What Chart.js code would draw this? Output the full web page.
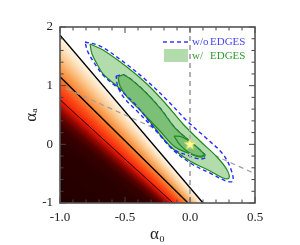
<!DOCTYPE html>
<html>
<head>
<meta charset="utf-8">
<script src="https://cdn.jsdelivr.net/npm/chart.js@4.4.1/dist/chart.umd.min.js"></script>
<style>
  html, body { margin: 0; padding: 0; background: #fff; }
  #chart { display: block; }
</style>
</head>
<body>
<canvas id="chart" width="300" height="245"></canvas>
<script>
// axis ticks
const xMajorTicks = [-1.0, -0.5, 0.0, 0.5];
const xMinorTicks = [-0.9, -0.8, -0.7, -0.6, -0.4, -0.3, -0.2, -0.1, 0.1, 0.2, 0.3, 0.4];
const yMajorTicks = [-1, 0, 1, 2];
const yMinorTicks = [-0.8, -0.6, -0.4, -0.2, 0.2, 0.4, 0.6, 0.8, 1.2, 1.4, 1.6, 1.8];

// black contour lines of the background map: from (-1, leftY) down to (bottomX, -1)
const contourLeftY = [1.86, 1.15, 0.76];
const contourBottomX = [0.10, -0.015, -0.13];
const contourWidths = [1.4, 1.4, 0.9];

// background map colour levels, read along the left edge (x = -1)
const heatLevelY = [1.864, 1.693, 1.523, 1.335, 1.148, 0.960, 0.807, 0.705, 0.585, 0.449, 0.279, -0.011, -1.0];
const heatColors = ['#fef5e8', '#fde4c2', '#fbca92', '#f9a458', '#f87c30', '#fa4c18', '#f82a0a',
  '#d61404', '#950702', '#5a0200', '#380000', '#2a0000', '#220000'];

// gray dashed guide lines
const diagX = [-0.95, 0.5];
const diagY = [0.95, -0.5];
const vertX = [0, 0];
const vertY = [-1, 2];

// w/ EDGES contours (green)
const greenOuterX = [-0.769, -0.669, -0.485, -0.331, -0.192, -0.054, 0.077, 0.208, 0.285, 0.300, 0.254, 0.154, 0.0, -0.154, -0.308, -0.438, -0.562, -0.669, -0.715, -0.754, -0.769];
const greenOuterY = [1.710, 1.608, 1.318, 1.028, 0.705, 0.347, 0.057, -0.216, -0.437, -0.574, -0.574, -0.454, -0.284, -0.028, 0.381, 0.739, 0.994, 1.199, 1.369, 1.540, 1.710];
const greenInnerX = [-0.554, -0.508, -0.385, -0.231, -0.115, 0.015, 0.092, 0.115, 0.069, -0.015, -0.115, -0.231, -0.385, -0.485, -0.538, -0.554];
const greenInnerY = [1.148, 1.182, 0.977, 0.619, 0.278, 0.023, -0.131, -0.199, -0.216, -0.148, -0.045, 0.227, 0.585, 0.807, 0.994, 1.148];
const greenCoreX = [-0.123, -0.062, 0.015, 0.077, 0.108, 0.062, -0.015, -0.077, -0.123];
const greenCoreY = [0.142, 0.125, 0.023, -0.096, -0.182, -0.199, -0.131, -0.011, 0.142];

// w/o EDGES contours (blue dashed)
const blueOuterX = [-0.808, -0.692, -0.500, -0.331, -0.177, -0.015, 0.115, 0.246, 0.308, 0.331, 0.277, 0.169, 0.015, -0.138, -0.292, -0.423, -0.546, -0.662, -0.731, -0.785, -0.808];
const blueOuterY = [1.744, 1.676, 1.386, 1.080, 0.756, 0.381, 0.125, -0.148, -0.386, -0.625, -0.625, -0.506, -0.335, -0.079, 0.330, 0.688, 0.943, 1.165, 1.369, 1.574, 1.744];
const blueInnerX = [-0.569, -0.508, -0.385, -0.231, -0.115, 0.015, 0.092, 0.123, 0.077, -0.023, -0.131, -0.246, -0.400, -0.500, -0.554, -0.569];
const blueInnerY = [1.165, 1.182, 0.977, 0.619, 0.278, 0.023, -0.131, -0.216, -0.250, -0.182, -0.079, 0.193, 0.551, 0.773, 0.977, 1.165];

// best fit point
const starX = [0.0];
const starY = [0.0];

const pts = (xs, ys) => xs.map((x, i) => ({ x: x, y: ys[i] }));
const serif = "'Liberation Serif', 'DejaVu Serif', serif";

// filled 5-point star used as point style
const starImg = document.createElement('canvas');
starImg.width = 13;
starImg.height = 13;
(function () {
  const c = starImg.getContext('2d');
  c.beginPath();
  for (let i = 0; i < 10; i++) {
    const r = i % 2 === 0 ? 6 : 2.6;
    const a = -Math.PI / 2 + i * Math.PI / 5;
    c.lineTo(6.5 + r * Math.cos(a), 6.5 + r * Math.sin(a));
  }
  c.closePath();
  c.fillStyle = '#ffff90';
  c.fill();
  c.strokeStyle = '#e0d870';
  c.lineWidth = 0.8;
  c.stroke();
})();

// the map's contour lines fan out from one point, so colour it with a conic gradient around it
function heatFill(context) {
  const chart = context.chart;
  const xs = chart.scales.x, ys = chart.scales.y;
  if (!chart.chartArea || !xs || !ys) return heatColors[0];
  const seg = (i) => ({
    x0: xs.getPixelForValue(-1), y0: ys.getPixelForValue(contourLeftY[i]),
    x1: xs.getPixelForValue(contourBottomX[i]), y1: ys.getPixelForValue(-1)
  });
  const a = seg(0), b = seg(contourLeftY.length - 1);
  const d1x = a.x1 - a.x0, d1y = a.y1 - a.y0, d2x = b.x1 - b.x0, d2y = b.y1 - b.y0;
  const t = ((b.x0 - a.x0) * d2y - (b.y0 - a.y0) * d2x) / (d1x * d2y - d1y * d2x);
  const fx = a.x0 + t * d1x, fy = a.y0 + t * d1y;
  const g = chart.ctx.createConicGradient(-Math.PI, fx, fy);
  const px = xs.getPixelForValue(-1);
  heatLevelY.forEach((v, i) => {
    const ang = Math.atan2(ys.getPixelForValue(v) - fy, px - fx) + Math.PI;
    g.addColorStop(Math.min(1, Math.max(0, ang / (2 * Math.PI))), heatColors[i]);
  });
  return g;
}

const datasets = [];

datasets.push({
  data: pts(starX, starY), showLine: false,
  pointStyle: starImg, pointRadius: 6, order: 0
});
datasets.push({
  data: pts(blueOuterX, blueOuterY), showLine: true, tension: 0.35, pointRadius: 0,
  borderColor: '#2a2aff', borderWidth: 1.4, borderDash: [4, 3], fill: false, order: 1
});
datasets.push({
  data: pts(vertX, vertY), showLine: true, pointRadius: 0,
  borderColor: '#b0b0b0', borderWidth: 2, borderDash: [5, 4], fill: false, order: 3
});
datasets.push({
  data: pts(greenCoreX, greenCoreY), showLine: true, tension: 0.35, pointRadius: 0,
  borderColor: '#1f8a1f', borderWidth: 1.2, backgroundColor: '#7cbf76', fill: 'shape', order: 4
});
datasets.push({
  data: pts(greenInnerX, greenInnerY), showLine: true, tension: 0.35, pointRadius: 0,
  borderColor: '#1f8a1f', borderWidth: 1.2, backgroundColor: '#7cbf76', fill: 'shape', order: 5
});
datasets.push({
  data: pts(blueInnerX, blueInnerY), showLine: true, tension: 0.35, pointRadius: 0,
  borderColor: '#2a2aff', borderWidth: 1.4, borderDash: [4, 3], fill: false, order: 6
});
datasets.push({
  data: pts(greenOuterX, greenOuterY), showLine: true, tension: 0.35, pointRadius: 0,
  borderColor: '#1f8a1f', borderWidth: 1.2, backgroundColor: '#b2dcab', fill: 'shape', order: 7
});
datasets.push({
  data: pts(diagX, diagY), showLine: true, pointRadius: 0,
  borderColor: '#a0a0a0', borderWidth: 1.2, borderDash: [5, 4], fill: false, order: 8
});
contourLeftY.forEach((yl, i) => {
  datasets.push({
    data: [{ x: -1, y: yl }, { x: contourBottomX[i], y: -1 }], showLine: true, pointRadius: 0,
    borderColor: '#000', borderWidth: contourWidths[i],
    backgroundColor: i === 0 ? heatFill : 'rgba(0,0,0,0)',
    fill: i === 0 ? 'start' : false, order: i === 0 ? 12 : 9
  });
});

// inward ticks, frame and legend
const framePlugin = {
  id: 'frame',
  afterDatasetsDraw(chart) {
    const { ctx, chartArea: a, scales: { x, y } } = chart;
    ctx.save();
    ctx.strokeStyle = '#444';
    ctx.lineWidth = 1;
    const tick = (v, len, horiz) => {
      ctx.beginPath();
      if (horiz) {
        const px = x.getPixelForValue(v);
        ctx.moveTo(px, a.bottom); ctx.lineTo(px, a.bottom - len);
        ctx.moveTo(px, a.top); ctx.lineTo(px, a.top + len);
      } else {
        const py = y.getPixelForValue(v);
        ctx.moveTo(a.left, py); ctx.lineTo(a.left + len, py);
        ctx.moveTo(a.right, py); ctx.lineTo(a.right - len, py);
      }
      ctx.stroke();
    };
    xMajorTicks.forEach(v => tick(v, 6, true));
    xMinorTicks.forEach(v => tick(v, 3.5, true));
    yMajorTicks.forEach(v => tick(v, 6, false));
    yMinorTicks.forEach(v => tick(v, 3.5, false));

    ctx.strokeStyle = '#555';
    ctx.lineWidth = 1.6;
    ctx.strokeRect(a.left, a.top, a.right - a.left, a.bottom - a.top);

    // legend
    const lx = a.left + 103;
    const ly = a.top + 15;
    ctx.setLineDash([4, 3]);
    ctx.strokeStyle = '#3a3aff';
    ctx.lineWidth = 1.5;
    ctx.beginPath();
    ctx.moveTo(lx, ly); ctx.lineTo(lx + 27, ly);
    ctx.stroke();
    ctx.setLineDash([]);
    ctx.fillStyle = '#b2dcab';
    ctx.fillRect(lx + 1, ly + 7, 24, 13);
    ctx.font = '11px ' + serif;
    ctx.textBaseline = 'middle';
    ctx.fillStyle = '#4646f0';
    ctx.fillText('w/o', lx + 29, ly + 0.5);
    ctx.fillText('EDGES', lx + 47, ly + 0.5);
    ctx.fillStyle = '#2e9a2e';
    ctx.fillText('w/', lx + 29, ly + 14);
    ctx.fillText('EDGES', lx + 47, ly + 14);
    ctx.restore();
  }
};

new Chart(document.getElementById('chart'), {
  type: 'scatter',
  data: { datasets: datasets },
  options: {
    responsive: false,
    animation: false,
    layout: { padding: { top: 27, right: 45, left: 0, bottom: 0 } },
    plugins: { legend: { display: false }, tooltip: { enabled: false } },
    scales: {
      x: {
        min: -1, max: 0.5,
        afterFit: (s) => { s.height = 42; },
        grid: { display: false, drawTicks: false },
        border: { display: false },
        ticks: {
          stepSize: 0.5, padding: 7, color: '#222',
          font: { family: serif, size: 13 },
          callback: (v) => Number(v).toFixed(1)
        },
        title: {
          display: true, text: 'α₀', color: '#222',
          font: { family: serif, size: 17 }, padding: { top: 0, bottom: 0 }
        }
      },
      y: {
        min: -1, max: 2,
        afterFit: (s) => { s.width = 60; },
        grid: { display: false, drawTicks: false },
        border: { display: false },
        ticks: {
          stepSize: 1, padding: 7, color: '#222',
          font: { family: serif, size: 13 }
        },
        title: {
          display: true, text: 'αₐ', color: '#222',
          font: { family: serif, size: 17 }, padding: { top: 21, bottom: 0 }
        }
      }
    }
  },
  plugins: [framePlugin]
});
</script>
</body>
</html>
